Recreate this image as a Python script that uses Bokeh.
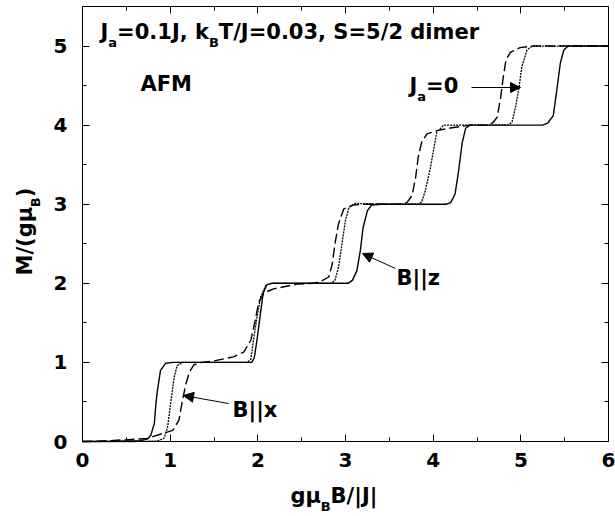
import math
from bokeh.plotting import figure
from bokeh.models import (Range1d, LinearAxis, Label, Arrow, NormalHead, FixedTicker,
                          CustomLabelingPolicy)
from bokeh.embed import file_html
from bokeh.resources import INLINE

# ---------------- data ----------------
x_ticks = [0, 1, 2, 3, 4, 5, 6]
x_minor = [0.5, 1.5, 2.5, 3.5, 4.5, 5.5]
y_ticks = [0, 1, 2, 3, 4, 5]
y_minor = [0.5, 1.5, 2.5, 3.5, 4.5]

# B||z (solid)
bz_x = [0, 0.4, 0.65, 0.74, 0.78, 0.82, 0.835, 0.855, 0.89, 0.95, 1.03, 1.5, 1.88,
        1.93, 1.96, 1.99, 2.01, 2.03, 2.06, 2.1, 2.16, 2.4, 2.8, 3.03,
        3.08, 3.13, 3.17, 3.2, 3.25, 3.3, 3.4, 3.8, 4.15,
        4.2, 4.25, 4.29, 4.33, 4.37, 4.42, 4.5, 4.9, 5.25,
        5.31, 5.37, 5.41, 5.45, 5.49, 5.54, 5.65, 6.0]
bz_y = [0, 0.003, 0.01, 0.03, 0.08, 0.23, 0.45, 0.65, 0.9, 0.99, 1.0, 1.0, 1.0,
        1.0, 1.06, 1.28, 1.45, 1.62, 1.87, 1.98, 2.0, 2.0, 2.0, 2.0,
        2.04, 2.16, 2.42, 2.7, 2.92, 2.99, 3.0, 3.0, 3.0,
        3.02, 3.13, 3.42, 3.77, 3.96, 4.0, 4.0, 4.0, 4.0,
        4.03, 4.12, 4.44, 4.78, 4.95, 5.0, 5.0, 5.0]

# Ja=0 (dotted)
j0_x = [0, 0.6, 0.85, 0.93, 0.97, 1.01, 1.045, 1.08, 1.14, 1.5, 1.88,
        1.92, 1.95, 1.99, 2.03, 2.09, 2.14, 2.5, 2.84,
        2.88, 2.92, 2.96, 3.0, 3.04, 3.11, 3.5, 3.83,
        3.87, 3.91, 3.97, 4.01, 4.04, 4.12, 4.5, 4.86,
        4.9, 4.94, 4.98, 5.01, 5.07, 5.13, 6.0]
j0_y = [0, 0.0, 0.005, 0.04, 0.18, 0.52, 0.81, 0.96, 1.0, 1.0, 1.0,
        1.04, 1.28, 1.57, 1.82, 1.97, 2.0, 2.0, 2.0,
        2.04, 2.2, 2.5, 2.8, 2.96, 3.01, 3.0, 3.0,
        3.03, 3.17, 3.47, 3.72, 3.91, 4.0, 4.0, 4.0,
        4.04, 4.23, 4.48, 4.73, 4.95, 5.0, 5.0]

# B||x (dashed)
bx_x = [0, 0.3, 0.63, 0.74, 0.91, 1.03, 1.1, 1.14, 1.18, 1.22, 1.27, 1.36, 1.5, 1.72,
        1.84, 1.92, 1.97, 2.01, 2.07, 2.18, 2.45, 2.63,
        2.71, 2.81, 2.85, 2.88, 2.92, 2.98, 3.09, 3.23, 3.6,
        3.7, 3.76, 3.8, 3.83, 3.87, 3.93, 4.04, 4.23, 4.42, 4.62,
        4.68, 4.73, 4.77, 4.8, 4.83, 4.88, 4.99, 5.14, 6.0]
bx_y = [0, 0.01, 0.03, 0.04, 0.1, 0.14, 0.27, 0.52, 0.73, 0.88, 0.97, 1.0, 1.02, 1.07,
        1.13, 1.28, 1.53, 1.76, 1.88, 1.93, 1.99, 2.0,
        2.02, 2.08, 2.25, 2.5, 2.75, 2.94, 2.99, 3.0, 3.0,
        3.02, 3.11, 3.34, 3.6, 3.79, 3.89, 3.93, 3.97, 4.0, 4.0,
        4.03, 4.1, 4.35, 4.61, 4.82, 4.92, 4.98, 5.0, 5.0]

# ---------------- layout ----------------
W, H = 615, 516
PL, PR, PT, PB = 82, 608, 6, 441          # plot box in pixels
X0, X1, Y0, Y1 = 0, 6, 0, 5.5
SX = (X1 - X0) / (PR - PL)
SY = (Y1 - Y0) / (PB - PT)
FONT = "DejaVu Sans"
FS = 21
SUB = 13
SUB_SHIFT = 8
TICK_FS = 20

p = figure(width=W, height=H,
           x_range=Range1d(X0 - PL * SX, X1 + (W - PR) * SX),
           y_range=Range1d(Y0 - (H - PB) * SY, Y1 + PT * SY),
           output_backend="svg", toolbar_location=None,
           x_axis_location=None, y_axis_location=None,
           min_border=0, min_border_left=0, min_border_right=0,
           min_border_top=0, min_border_bottom=0)
p.grid.visible = False
p.outline_line_color = None
p.background_fill_color = "white"
p.border_fill_color = "white"

def make_axis(side, loc, ticks, minor, bounds, labels=True):
    ax = LinearAxis(fixed_location=loc, bounds=bounds)
    ax.ticker = FixedTicker(ticks=ticks, minor_ticks=minor)
    ax.major_tick_in = 7
    ax.major_tick_out = 0
    ax.minor_tick_in = 4
    ax.minor_tick_out = 0
    ax.major_tick_line_color = "black"
    ax.minor_tick_line_color = "black"
    ax.axis_line_color = "black"
    ax.axis_line_width = 1
    ax.major_label_text_font = FONT
    ax.major_label_text_font_style = "bold"
    ax.major_label_text_color = "black"
    ax.major_label_text_font_size = f"{TICK_FS}px"
    if not labels:
        ax.major_label_policy = CustomLabelingPolicy(code="return []")
    p.add_layout(ax, side)
    return ax

bottom = make_axis("below", Y0, x_ticks, x_minor, (X0, X1))
bottom.major_label_standoff = 11
left = make_axis("left", X0, y_ticks, y_minor, (Y0, Y1))
left.major_label_standoff = 15
make_axis("above", Y1, x_ticks, x_minor, (X0, X1), labels=False)
make_axis("right", X1, y_ticks, y_minor, (Y0, Y1), labels=False)

# ---------------- curves ----------------
p.line(bx_x, bx_y, line_color="black", line_width=1.4, line_dash="10 4")
p.line(j0_x, j0_y, line_color="black", line_width=1.3, line_dash="2 1")
p.line(bz_x, bz_y, line_color="black", line_width=1.4)

# ---------------- text helpers ----------------
# approximate advance widths of DejaVu Sans Bold (per 1000 em)
AW = {' ': 348, '(': 457, ')': 457, ',': 380, '.': 380, '/': 365, '=': 838, '|': 366,
      'A': 774, 'B': 762, 'F': 683, 'J': 372, 'M': 995, 'S': 720, 'T': 682,
      'a': 675, 'd': 716, 'e': 678, 'g': 716, 'i': 343, 'k': 665, 'm': 1042,
      'r': 493, 'x': 712, 'z': 583, 'μ': 721}
for c in "0123456789":
    AW[c] = 696
CAP_MID = 0.3645   # cap-height centre above the baseline, in em

def tw(s, size):
    return sum(AW.get(c, 650) for c in s) / 1000.0 * size

def dx(px):
    return X0 + (px - PL) * SX

def dy(py):
    return Y0 + (PB - py) * SY

def rich(pieces, px, py, size, vertical=False):
    """px, py: start of the text and its baseline, in pixels"""
    pos = 0.0
    for txt, kind in pieces:
        s = size if kind == "n" else SUB
        shift = 0 if kind == "n" else SUB_SHIFT
        mid = shift - CAP_MID * s          # from main baseline to the piece's middle
        if vertical:
            x, y = px - mid * -1, py - pos
            x = px + mid
            ang = math.pi / 2
        else:
            x, y = px + pos, py + mid
            ang = 0
        p.add_layout(Label(x=dx(x), y=dy(y), text=txt, angle=ang,
                           text_font=FONT, text_font_style="bold",
                           text_font_size=f"{s}px", text_color="black",
                           text_baseline="middle", text_align="left"))
        pos += tw(txt, s)

rich([("J", "n"), ("a", "s"), ("=0.1J, k", "n"), ("B", "s"), ("T/J=0.03, S=5/2 dimer", "n")],
     100, 39, FS)
rich([("AFM", "n")], 140, 91, FS)
rich([("J", "n"), ("a", "s"), ("=0", "n")], 409, 93, FS)
rich([("B||z", "n")], 396, 285, FS)
rich([("B||x", "n")], 232, 417, FS)

# axis titles
rich([("gμ", "n"), ("B", "s"), ("B/|J|", "n")], 290, 503, FS)
rich([("M/(gμ", "n"), ("B", "s"), (")", "n")], 32, 275, FS, vertical=True)

# arrows
def arrow(x0, y0, x1, y1):
    p.add_layout(Arrow(end=NormalHead(size=10, fill_color="black", line_color="black"),
                       x_start=dx(x0), y_start=dy(y0), x_end=dx(x1), y_end=dy(y1),
                       line_color="black", line_width=1))

arrow(471, 87, 520, 87)
arrow(395, 268, 362, 253)
arrow(228, 403, 183, 395)

open("out.html", "w").write(file_html(p, INLINE))
